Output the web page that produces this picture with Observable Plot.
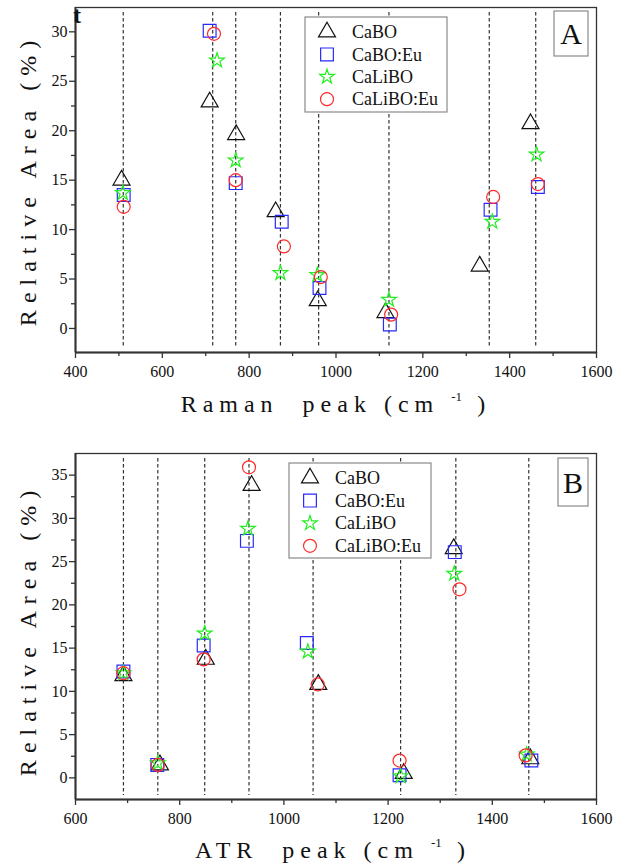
<!DOCTYPE html>
<html><head><meta charset="utf-8">
<script src="https://cdn.jsdelivr.net/npm/d3@7"></script>
<script src="https://cdn.jsdelivr.net/npm/@observablehq/plot@0.6"></script>
<style>
body{margin:0;background:#fff;}
#chart{width:633px;}
#chart svg{display:block;}
#chart svg text{font-family:'Liberation Serif','DejaVu Serif',serif;}
</style>
</head><body><div id="chart"></div>
<script>
// ---- Data ----
const seriesNames = ["CaBO", "CaBO:Eu", "CaLiBO", "CaLiBO:Eu"];
const seriesSymbols = ["triangle", "square", "star", "circle"];
const seriesColors = ["#111111", "#2a2aff", "#22ee22", "#ff2a2a"];

// Panel A: Raman
const ramanPeaks = [510, 716, 769, 872, 960, 1122, 1353, 1460];
const ramanCaBO_x     = [506, 709, 770, 861, 958, 1114, 1331, 1448];
const ramanCaBO_y     = [15.0, 22.9, 19.6, 11.8, 2.8, 1.6, 6.3, 20.7];
const ramanCaBOEu_x   = [511, 709, 769, 875, 962, 1124, 1356, 1465];
const ramanCaBOEu_y   = [13.5, 30.1, 14.7, 10.8, 4.1, 0.4, 12.0, 14.3];
const ramanCaLiBO_x   = [509, 726, 769, 872, 957, 1122, 1360, 1462];
const ramanCaLiBO_y   = [13.7, 27.1, 17.0, 5.6, 5.4, 2.9, 10.8, 17.6];
const ramanCaLiBOEu_x = [511, 719, 769, 880, 965, 1127, 1362, 1465];
const ramanCaLiBOEu_y = [12.3, 29.8, 15.0, 8.3, 5.2, 1.4, 13.3, 14.6];
const ramanXTicks = [400, 600, 800, 1000, 1200, 1400, 1600];
const ramanYTicks = [0, 5, 10, 15, 20, 25, 30];

// Panel B: ATR
const atrPeaks = [692, 758, 848, 933, 1056, 1224, 1330, 1470];
const atrCaBO_x     = [692, 762, 850, 938, 1066, 1230, 1326, 1473];
const atrCaBO_y     = [11.8, 1.5, 13.7, 33.8, 10.8, 0.5, 26.5, 2.2];
const atrCaBOEu_x   = [692, 757, 846, 929, 1044, 1222, 1328, 1475];
const atrCaBOEu_y   = [12.3, 1.5, 15.3, 27.4, 15.6, 0.3, 26.1, 2.0];
const atrCaLiBO_x   = [692, 758, 848, 931, 1046, 1224, 1327, 1466];
const atrCaLiBO_y   = [12.1, 1.7, 16.7, 28.8, 14.6, 0.2, 23.6, 2.7];
const atrCaLiBOEu_x = [692, 758, 846, 933, 1065, 1222, 1337, 1464];
const atrCaLiBOEu_y = [12.1, 1.5, 13.7, 35.9, 10.8, 2.0, 21.8, 2.6];
const atrXTicks = [600, 800, 1000, 1200, 1400, 1600];
const atrYTicks = [0, 5, 10, 15, 20, 25, 30, 35];

const zip = (xs, ys) => xs.map((x, i) => ({x, y: ys[i]}));
const symbolSize = {triangle: 6.3, square: 7.2, star: 4.6, circle: 6.5};
const d3Sym = {triangle: d3.symbolTriangle, square: d3.symbolSquare, star: d3.symbolStar, circle: d3.symbolCircle};
const FONT = "'Liberation Serif', 'DejaVu Serif', serif";
const fmt = d3.format("d");

function panel(cfg) {
  const {height, marginTop, marginBottom, marginLeft, marginRight, xDomain, yDomain,
         xTicks, yTicks, peaks, series} = cfg;
  const xMinor = d3.range(xTicks[0] + 100, xTicks[xTicks.length - 1], 200);
  const yMinor = d3.range(2.5, yDomain[1], 5);
  const marks = [
    Plot.ruleX(peaks, {stroke: "#333", strokeWidth: 1.2, strokeDasharray: "3.5,2.5", insetTop: 5, insetBottom: 4}),
    Plot.frame({stroke: "#333", strokeWidth: 1.3}),
    Plot.ruleX([xDomain[0]], {stroke: "#333", strokeWidth: 2}),
    Plot.ruleY([yDomain[0]], {stroke: "#333", strokeWidth: 2}),
    Plot.axisX({ticks: xTicks, tickFormat: fmt, tickSize: 6, tickPadding: 7, label: null, fontSize: 16, stroke: "#333", strokeWidth: 1.3}),
    Plot.axisX({ticks: xMinor, tickSize: 4, tickFormat: () => "", label: null, stroke: "#333", strokeWidth: 1.3}),
    Plot.axisY({ticks: yTicks, tickFormat: fmt, tickSize: 6, tickPadding: 2, label: null, fontSize: 16, stroke: "#333", strokeWidth: 1.3}),
    Plot.axisY({ticks: yMinor, tickSize: 4, tickFormat: () => "", label: null, stroke: "#333", strokeWidth: 1.3}),
  ];
  series.forEach((s, i) => {
    const sym = seriesSymbols[i];
    marks.push(Plot.dot(s, {x: "x", y: "y", symbol: sym, r: symbolSize[sym], stroke: seriesColors[i], strokeWidth: 1.2, fill: "none"}));
  });
  const svg = Plot.plot({
    width: 633, height, marginTop, marginBottom, marginLeft, marginRight,
    x: {domain: xDomain}, y: {domain: yDomain},
    style: {fontFamily: FONT, color: "#111", background: "#fff", overflow: "visible"},
    marks
  });
  const g = d3.select(svg);
  const text = () => g.append("text").attr("text-anchor", "start").attr("fill", "#111")
    .style("font-family", FONT);
  // legend
  const L = cfg.legend;
  g.append("rect").attr("x", L.x).attr("y", L.y).attr("width", L.w).attr("height", L.h)
    .attr("fill", "#fff").attr("stroke", "#8a8a8a").attr("stroke-width", 1.2);
  seriesNames.forEach((name, i) => {
    const cy = L.y + L.row0 + i * L.dy;
    const sym = seriesSymbols[i];
    const r = symbolSize[sym];
    g.append("path").attr("transform", `translate(${L.x + L.symX},${cy})`)
      .attr("d", d3.symbol(d3Sym[sym], r * r * Math.PI)())
      .attr("fill", "none").attr("stroke", seriesColors[i]).attr("stroke-width", 1.2);
    text().attr("x", L.x + L.textX).attr("y", cy).attr("dy", "0.34em")
      .style("font-size", "18px").text(name);
  });
  // panel label box
  const P = cfg.tag;
  g.append("rect").attr("x", P.x).attr("y", P.y).attr("width", P.w).attr("height", P.h)
    .attr("fill", "#fff").attr("stroke", "#8a8a8a").attr("stroke-width", 1.2);
  text().attr("x", P.x + P.w / 2).attr("y", P.y + P.h / 2).attr("dy", "0.35em")
    .attr("text-anchor", "middle").style("font-size", "30px").text(P.label);
  // y title
  text().attr("transform", `translate(${cfg.yTitle.x},${cfg.yTitle.y}) rotate(-90)`)
    .attr("text-anchor", "middle").attr("dy", "0.35em").style("font-size", "24px")
    .style("letter-spacing", "7px").text("Relative Area (%)");
  // x title
  const xt = text().attr("x", cfg.xTitle.x).attr("y", cfg.xTitle.y)
    .attr("text-anchor", "middle").style("font-size", "24px")
    .style("letter-spacing", "6px").style("white-space", "pre");
  xt.append("tspan").text(cfg.xTitle.text);
  xt.append("tspan").attr("dy", -11).style("font-size", "13px").style("letter-spacing", "0px").text("-1 ");
  xt.append("tspan").attr("dy", 11).text(" )");
  if (cfg.extra) cfg.extra(g, text);
  return svg;
}

const chart = document.getElementById("chart");

chart.appendChild(panel({
  height: 420, marginTop: 7, marginBottom: 68, marginLeft: 75, marginRight: 37,
  xDomain: [400, 1600], yDomain: [-2.43, 32.46],
  xTicks: ramanXTicks, yTicks: ramanYTicks, peaks: ramanPeaks,
  series: [zip(ramanCaBO_x, ramanCaBO_y), zip(ramanCaBOEu_x, ramanCaBOEu_y),
           zip(ramanCaLiBO_x, ramanCaLiBO_y), zip(ramanCaLiBOEu_x, ramanCaLiBOEu_y)],
  legend: {x: 305, y: 17, w: 142, h: 95, row0: 15, dy: 22.4, symX: 22, textX: 47},
  tag: {x: 554, y: 11, w: 34, h: 45, label: "A"},
  yTitle: {x: 28, y: 180},
  xTitle: {x: 336, y: 412, text: "Raman  peak (cm "},
  extra: (g, text) => text().attr("x", 73).attr("y", 23)
    .style("font-size", "24px").style("font-weight", "bold").text("t")
}));

chart.appendChild(panel({
  height: 448, marginTop: 33, marginBottom: 69, marginLeft: 75, marginRight: 37,
  xDomain: [600, 1600], yDomain: [-2.5, 37.5],
  xTicks: atrXTicks, yTicks: atrYTicks, peaks: atrPeaks,
  series: [zip(atrCaBO_x, atrCaBO_y), zip(atrCaBOEu_x, atrCaBOEu_y),
           zip(atrCaLiBO_x, atrCaLiBO_y), zip(atrCaLiBOEu_x, atrCaLiBOEu_y)],
  legend: {x: 289, y: 43, w: 142, h: 95, row0: 15, dy: 22.6, symX: 21, textX: 46},
  tag: {x: 558, y: 38, w: 30, h: 48, label: "B"},
  yTitle: {x: 28, y: 210},
  xTitle: {x: 333, y: 438, text: "ATR  peak (cm "}
}));
</script></body></html>
